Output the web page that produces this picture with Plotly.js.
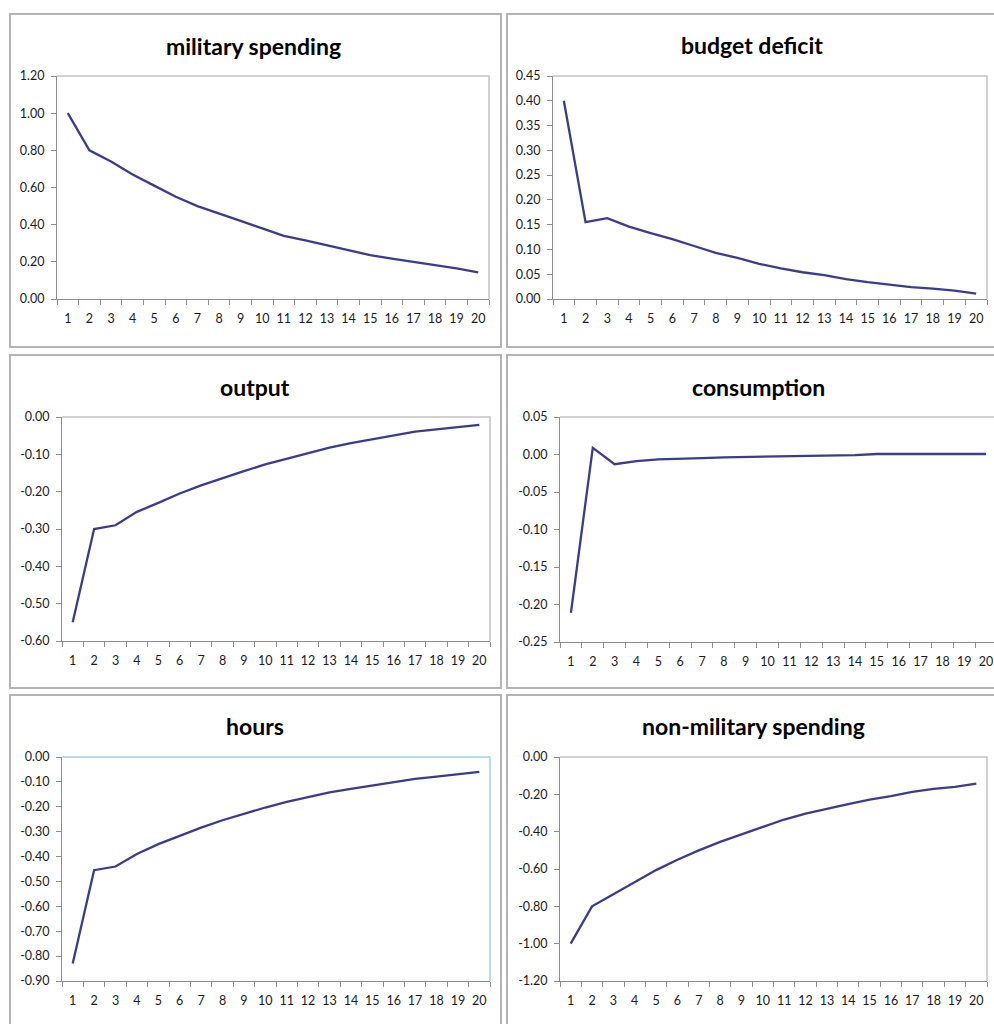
<!DOCTYPE html>
<html>
<head>
<meta charset="utf-8">
<script src="https://cdn.plot.ly/plotly-3.0.1.min.js"></script>
<style>
  html, body { margin: 0; padding: 0; background: #fff; overflow: hidden; }
  #chart { width: 1004px; height: 1024px; }
</style>
</head>
<body>
<div id="chart"></div>
<script>
// Impulse responses over 20 periods
const periods = ['1','2','3','4','5','6','7','8','9','10','11','12','13','14','15','16','17','18','19','20'];

const military    = [1.00, 0.80, 0.74, 0.67, 0.61, 0.55, 0.50, 0.458, 0.42, 0.38, 0.34, 0.315, 0.288, 0.26, 0.236, 0.217, 0.20, 0.18, 0.165, 0.143];
const deficit     = [0.40, 0.155, 0.163, 0.146, 0.133, 0.121, 0.107, 0.093, 0.083, 0.071, 0.062, 0.054, 0.048, 0.040, 0.034, 0.029, 0.024, 0.021, 0.017, 0.011];
const output      = [-0.55, -0.30, -0.29, -0.254, -0.23, -0.205, -0.183, -0.163, -0.145, -0.127, -0.112, -0.096, -0.082, -0.070, -0.059, -0.049, -0.039, -0.033, -0.027, -0.021];
const consumption = [-0.211, 0.009, -0.013, -0.0087, -0.0064, -0.006, -0.0047, -0.0038, -0.0033, -0.0024, -0.002, -0.001, -0.001, -0.0007, 0.0007, 0.0007, 0.0007, 0.0007, 0.0007, 0.0007];
const hours       = [-0.83, -0.455, -0.44, -0.39, -0.35, -0.316, -0.284, -0.254, -0.227, -0.203, -0.18, -0.16, -0.142, -0.128, -0.114, -0.10, -0.088, -0.079, -0.07, -0.06];
const nonMilitary = [-1.00, -0.80, -0.735, -0.67, -0.606, -0.55, -0.50, -0.455, -0.414, -0.374, -0.335, -0.303, -0.276, -0.253, -0.228, -0.21, -0.187, -0.171, -0.16, -0.143];

const titles = ['military spending', 'budget deficit', 'output', 'consumption', 'hours', 'non-military spending'];

const militaryTicks    = ['0.00','0.20','0.40','0.60','0.80','1.00','1.20'];
const deficitTicks     = ['0.00','0.05','0.10','0.15','0.20','0.25','0.30','0.35','0.40','0.45'];
const outputTicks      = ['-0.60','-0.50','-0.40','-0.30','-0.20','-0.10','0.00'];
const consumptionTicks = ['-0.25','-0.20','-0.15','-0.10','-0.05','0.00','0.05'];
const hoursTicks       = ['-0.90','-0.80','-0.70','-0.60','-0.50','-0.40','-0.30','-0.20','-0.10','0.00'];
const nonMilitaryTicks = ['-1.20','-1.00','-0.80','-0.60','-0.40','-0.20','0.00'];

const W = 1004, H = 1024;
const px = x => x / W;
const py = y => 1 - y / H;

const FONT = 'Lato, "Open Sans", sans-serif';
const LINE = '#3c3c8e';
const AXIS = '#8c8c8c';

// panel layout: outer frame, plot box, title centre
const panels = [
  { data: military,    ticks: militaryTicks,    frame: [10, 14, 501, 347],   box: [57, 76, 489, 299],   tx: 253, ty: 46,  boxColor: '#c4c4c4' },
  { data: deficit,     ticks: deficitTicks,     frame: [507, 14, 1010, 347], box: [553, 76, 987, 299],  tx: 752, ty: 45,  boxColor: '#c4c4c4' },
  { data: output,      ticks: outputTicks,      frame: [10, 355, 501, 688],  box: [62, 417, 490, 641],  tx: 255, ty: 387, boxColor: '#c4c4c4' },
  { data: consumption, ticks: consumptionTicks, frame: [507, 355, 1010, 688],box: [560, 417, 997, 642], tx: 758, ty: 387, boxColor: '#c4c4c4' },
  { data: hours,       ticks: hoursTicks,       frame: [10, 695, 501, 1030], box: [62, 757, 490, 981],  tx: 255, ty: 726, boxColor: '#a9cdee' },
  { data: nonMilitary, ticks: nonMilitaryTicks, frame: [507, 695, 1010, 1030],box: [560, 757, 987, 981],tx: 753, ty: 726, boxColor: '#c4c4c4' }
];

const traces = [];
const layout = {
  width: W, height: H,
  margin: { l: 0, r: 0, t: 0, b: 0 },
  paper_bgcolor: '#fff', plot_bgcolor: '#fff',
  showlegend: false,
  shapes: [], annotations: []
};

panels.forEach((p, i) => {
  const n = i + 1;
  const xa = n === 1 ? 'xaxis' : 'xaxis' + n;
  const ya = n === 1 ? 'yaxis' : 'yaxis' + n;
  const xr = n === 1 ? 'x' : 'x' + n;
  const yr = n === 1 ? 'y' : 'y' + n;
  const tv = p.ticks.map(Number);

  traces.push({
    type: 'scatter', mode: 'lines',
    x: periods, y: p.data,
    xaxis: xr, yaxis: yr,
    line: { color: LINE, width: 2.3 },
    hoverinfo: 'skip'
  });

  const [bx0, by0, bx1, by1] = p.box;
  layout[xa] = {
    type: 'category', domain: [px(bx0), px(bx1)], anchor: yr,
    range: [-0.5, periods.length - 0.5],
    tickson: 'boundaries', ticks: 'outside', ticklen: 5, tickcolor: AXIS, tickwidth: 1,
    tickangle: 0,
    showline: true, linecolor: AXIS, linewidth: 1, showgrid: false, zeroline: false,
    tickfont: { family: FONT, size: 12.5, color: '#1a1a26' }, ticklabelstandoff: 8,
    fixedrange: true
  };
  layout[ya] = {
    domain: [py(by1), py(by0)], anchor: xr,
    range: [tv[0], tv[tv.length - 1]], tickmode: 'array', tickvals: tv, ticktext: p.ticks,
    ticks: 'outside', ticklen: 5, tickcolor: AXIS, tickwidth: 1,
    showline: true, linecolor: AXIS, linewidth: 1, showgrid: false, zeroline: false,
    tickfont: { family: FONT, size: 12.5, color: '#1a1a26' }, ticklabelstandoff: 4,
    fixedrange: true
  };

  const [fx0, fy0, fx1, fy1] = p.frame;
  layout.shapes.push({
    type: 'rect', xref: 'paper', yref: 'paper', layer: 'below',
    x0: px(fx0), x1: px(fx1), y0: py(fy1), y1: py(fy0),
    line: { color: '#b4b4b4', width: 2 }
  });
  // top and right edges of the plot box
  layout.shapes.push({
    type: 'path', xref: 'paper', yref: 'paper', layer: 'below',
    path: `M ${px(bx0)} ${py(by0)} L ${px(bx1)} ${py(by0)} L ${px(bx1)} ${py(by1)}`,
    line: { color: p.boxColor, width: 1.5 }
  });

  layout.annotations.push({
    xref: 'paper', yref: 'paper', x: px(p.tx), y: py(p.ty),
    xanchor: 'center', yanchor: 'middle', showarrow: false,
    text: '<b>' + titles[i] + '</b>',
    font: { family: FONT, size: 23, color: '#000' }
  });
});

Plotly.newPlot('chart', traces, layout, { staticPlot: true, displayModeBar: false });
</script>
</body>
</html>
